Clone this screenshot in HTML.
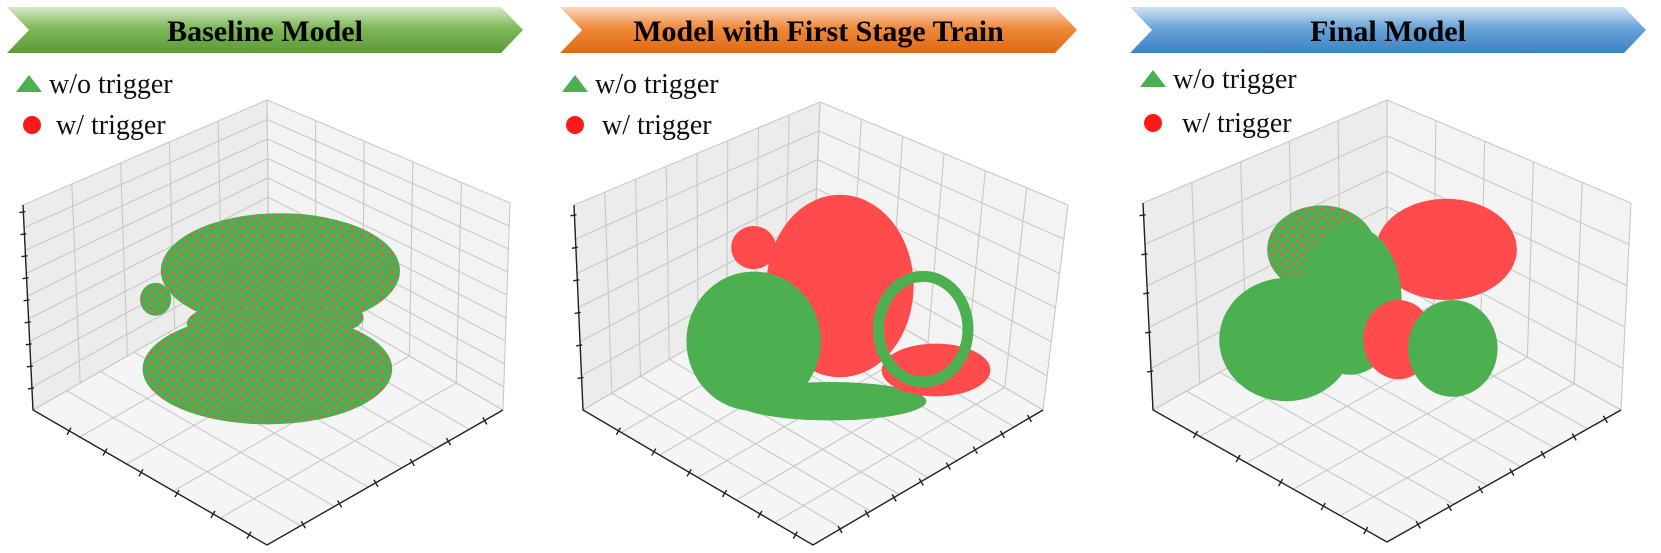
<!DOCTYPE html>
<html><head><meta charset="utf-8"><style>
html,body{margin:0;padding:0;background:#fff;}
svg{display:block;}
text{font-family:"Liberation Serif",serif;}
</style></head><body>
<svg id="fig" width="1661" height="553" viewBox="0 0 1661 553" xmlns="http://www.w3.org/2000/svg">
<defs>
<linearGradient id="gGreen" x1="0" y1="0" x2="0" y2="1"><stop offset="0" stop-color="#d6eac8"/><stop offset="0.45" stop-color="#7fb85a"/><stop offset="1" stop-color="#5c9a38"/></linearGradient>
<linearGradient id="gOrange" x1="0" y1="0" x2="0" y2="1"><stop offset="0" stop-color="#fbd7bf"/><stop offset="0.45" stop-color="#f08a3c"/><stop offset="1" stop-color="#de6a12"/></linearGradient>
<linearGradient id="gBlue" x1="0" y1="0" x2="0" y2="1"><stop offset="0" stop-color="#d2e4f4"/><stop offset="0.45" stop-color="#6aa4d8"/><stop offset="1" stop-color="#3b82c4"/></linearGradient>
<pattern id="pMix" width="10" height="9" patternUnits="userSpaceOnUse"><rect width="10" height="9" fill="#4caf50"/><circle cx="2" cy="2" r="1.5" fill="#ff4b4b"/><circle cx="7" cy="6.5" r="1.1" fill="#ff4b4b"/></pattern>
</defs>
<g id="root"></g>
</svg>
<script>
const NS="http://www.w3.org/2000/svg";
const root=document.getElementById('root');
function el(tag,attrs,parent){const e=document.createElementNS(NS,tag);for(const k in attrs)e.setAttribute(k,attrs[k]);(parent||root).appendChild(e);return e;}

// ---- data ----
const titles=["Baseline Model","Model with First Stage Train","Final Model"];
const legendLabels=["w/o trigger","w/ trigger"];
const p1X=[54,49,6,60,38];
const p1Y=[32,80,46,55,58];
const p1RX=[46,48,6,26,20];
const p1RY=[28,27,8,10,10];
const p1C=["mix","mix","mix","mix","mix"];
const p2X=[50,23,23,47,80,76];
const p2Y=[40,24,63,88,75,58];
const p2RX=[23,7,21,30,17,14];
const p2RY=[38,9,29,8,11,22];
const p2C=["red","red","green","green","red","ring"];
const p3X=[38,77,47,27,62,79];
const p3Y=[27,27,50,68,68,72];
const p3RX=[17,22,16,21,11,14];
const p3RY=[20,23,34,28,18,22];
const p3C=["mix","red","green","green","red","green"];

const panels=[
 {LT:[23,205],BT:[267,100],RT:[510,203],LB:[33,410],F:[267,545],RB:[503,410],z:9,lw:5,rw:5,fl:5,fr:7,tl:6,tr:6,box:[140,205,400,410],
  X:p1X,Y:p1Y,RX:p1RX,RY:p1RY,C:p1C,banner:[7,523,"url(#gGreen)"],leg:[[16,92,49],[32,125,56]]},
 {LT:[574,205],BT:[820,102],RT:[1068,205],LB:[583,410],F:[813,545],RB:[1043,410],z:6,lw:8,rw:6,fl:6,fr:8,tl:6,tr:8,box:[680,190,1000,430],
  X:p2X,Y:p2Y,RX:p2RX,RY:p2RY,C:p2C,banner:[560,1077,"url(#gOrange)"],leg:[[562,92,595],[575,125,602]]},
 {LT:[1143,203],BT:[1387,100],RT:[1631,203],LB:[1153,410],F:[1387,542],RB:[1621,410],z:5,lw:5,rw:5,fl:5,fr:7,tl:5,tr:7,box:[1200,190,1520,410],
  X:p3X,Y:p3Y,RX:p3RX,RY:p3RY,C:p3C,banner:[1130,1646,"url(#gBlue)"],leg:[[1140,87,1173],[1153,123,1182]]}
];

function lerp(a,b,t){return [a[0]+(b[0]-a[0])*t,a[1]+(b[1]-a[1])*t];}
function quad(a,b,c,d,u,v){return lerp(lerp(a,b,u),lerp(d,c,u),v);}
function pts(arr){return arr.map(p=>p.join(',')).join(' ');}

panels.forEach((P,i)=>{
 const g=el('g',{});
 
 
 const BB=[P.LB[0]+P.RB[0]-P.F[0],P.LB[1]+P.RB[1]-P.F[1]];
 const lp=el('polygon',{points:pts([P.LT,P.BT,BB,P.LB]),fill:'#ececec'},g);
 
 const rp=el('polygon',{points:pts([P.BT,P.RT,P.RB,BB]),fill:'#f3f3f3'},g);
 
 const fp=el('polygon',{points:pts([P.LB,BB,P.RB,P.F]),fill:'#f5f5f5'},g);
 
 const grid=el('g',{stroke:'#c8c8c8','stroke-width':1.1,fill:'none'},g);
 
 for(let k=0;k<=P.z;k++){const t=k/P.z;const a=quad(P.LB,BB,P.BT,P.LT,0,t),b=quad(P.LB,BB,P.BT,P.LT,1,t),c=quad(BB,P.RB,P.RT,P.BT,1,t);el('polyline',{points:pts([a,b,c])},grid);}
 for(let k=0;k<=P.lw;k++){const t=k/P.lw;const a=quad(P.LB,BB,P.BT,P.LT,t,0),b=quad(P.LB,BB,P.BT,P.LT,t,1);el('line',{x1:a[0],y1:a[1],x2:b[0],y2:b[1]},grid);}
 for(let k=0;k<=P.rw;k++){const t=k/P.rw;const a=quad(BB,P.RB,P.RT,P.BT,t,0),b=quad(BB,P.RB,P.RT,P.BT,t,1);el('line',{x1:a[0],y1:a[1],x2:b[0],y2:b[1]},grid);}
 for(let k=0;k<=P.fl;k++){const t=k/P.fl;const a=quad(P.LB,P.F,P.RB,BB,t,0),b=quad(P.LB,P.F,P.RB,BB,t,1);el('line',{x1:a[0],y1:a[1],x2:b[0],y2:b[1]},grid);}
 for(let k=0;k<=P.fr;k++){const t=k/P.fr;const a=quad(P.LB,P.F,P.RB,BB,0,t),b=quad(P.LB,P.F,P.RB,BB,1,t);el('line',{x1:a[0],y1:a[1],x2:b[0],y2:b[1]},grid);}
 const ax=el('g',{stroke:'#222','stroke-width':1.4,fill:'none'},g);
 
 el('polyline',{points:pts([P.LT,P.LB,P.F,P.RB])},ax);
 for(let k=1;k<=P.z;k++){const p=lerp(P.LB,P.LT,k/(P.z+0.3));el('line',{x1:p[0]-4,y1:p[1]+1,x2:p[0]+2,y2:p[1]},ax);}
 for(let k=1;k<=P.tl;k++){const p=lerp(P.LB,P.F,k/(P.tl+0.5));el('line',{x1:p[0]-2,y1:p[1]+4,x2:p[0]+2,y2:p[1]-3},ax);}
 for(let k=1;k<=P.tr;k++){const p=lerp(P.F,P.RB,k/(P.tr+0.5));el('line',{x1:p[0]-2,y1:p[1]-3,x2:p[0]+2,y2:p[1]+4},ax);}
 const [bx0,by0,bx1,by1]=P.box;
 const sx=v=>bx0+(bx1-bx0)*v/100, sy=v=>by0+(by1-by0)*v/100;
 const sc=el('g',{},g);
 
 P.C.forEach((cls,j)=>{
  const attrs={cx:sx(P.X[j]),cy:sy(P.Y[j]),rx:(bx1-bx0)*P.RX[j]/100,ry:(by1-by0)*P.RY[j]/100};
  if(cls==='ring'){attrs.fill='none';attrs.stroke='#4caf50';attrs['stroke-width']=11;}
  else attrs.fill=cls==='red'?'#ff4b4b':cls==='green'?'#4caf50':'url(#pMix)';
  const e=el('ellipse',attrs,sc);
  
  
 });
 const [x0,x1,grad]=P.banner;const y0=7,y1=53,n=22;
 const bn=el('polygon',{points:pts([[x0,y0],[x1-n,y0],[x1,(y0+y1)/2],[x1-n,y1],[x0,y1],[x0+n,(y0+y1)/2]]),fill:grad},g);
 
 const tt=el('text',{x:(x0+x1)/2,y:41,'text-anchor':'middle','font-size':30,'font-weight':'bold',fill:'#000'},g);
 tt.textContent=titles[i];
 
 const lg=el('g',{},g);
 
 const [t0,t1]=P.leg;
 const tri=el('polygon',{points:pts([[t0[0],t0[1]],[t0[0]+26,t0[1]],[t0[0]+13,t0[1]-17]]),fill:'#4caf50'},lg);
 
 const l1=el('text',{x:t0[2],y:t0[1]+1,'font-size':28,fill:'#111'},lg);l1.textContent=legendLabels[0];
 
 const ci=el('circle',{cx:t1[0],cy:t1[1],r:9,fill:'#ff1a1a'},lg);
 
 const l2=el('text',{x:t1[2],y:t1[1]+9,'font-size':28,fill:'#111'},lg);l2.textContent=legendLabels[1];
 
});
</script>
</body></html>
